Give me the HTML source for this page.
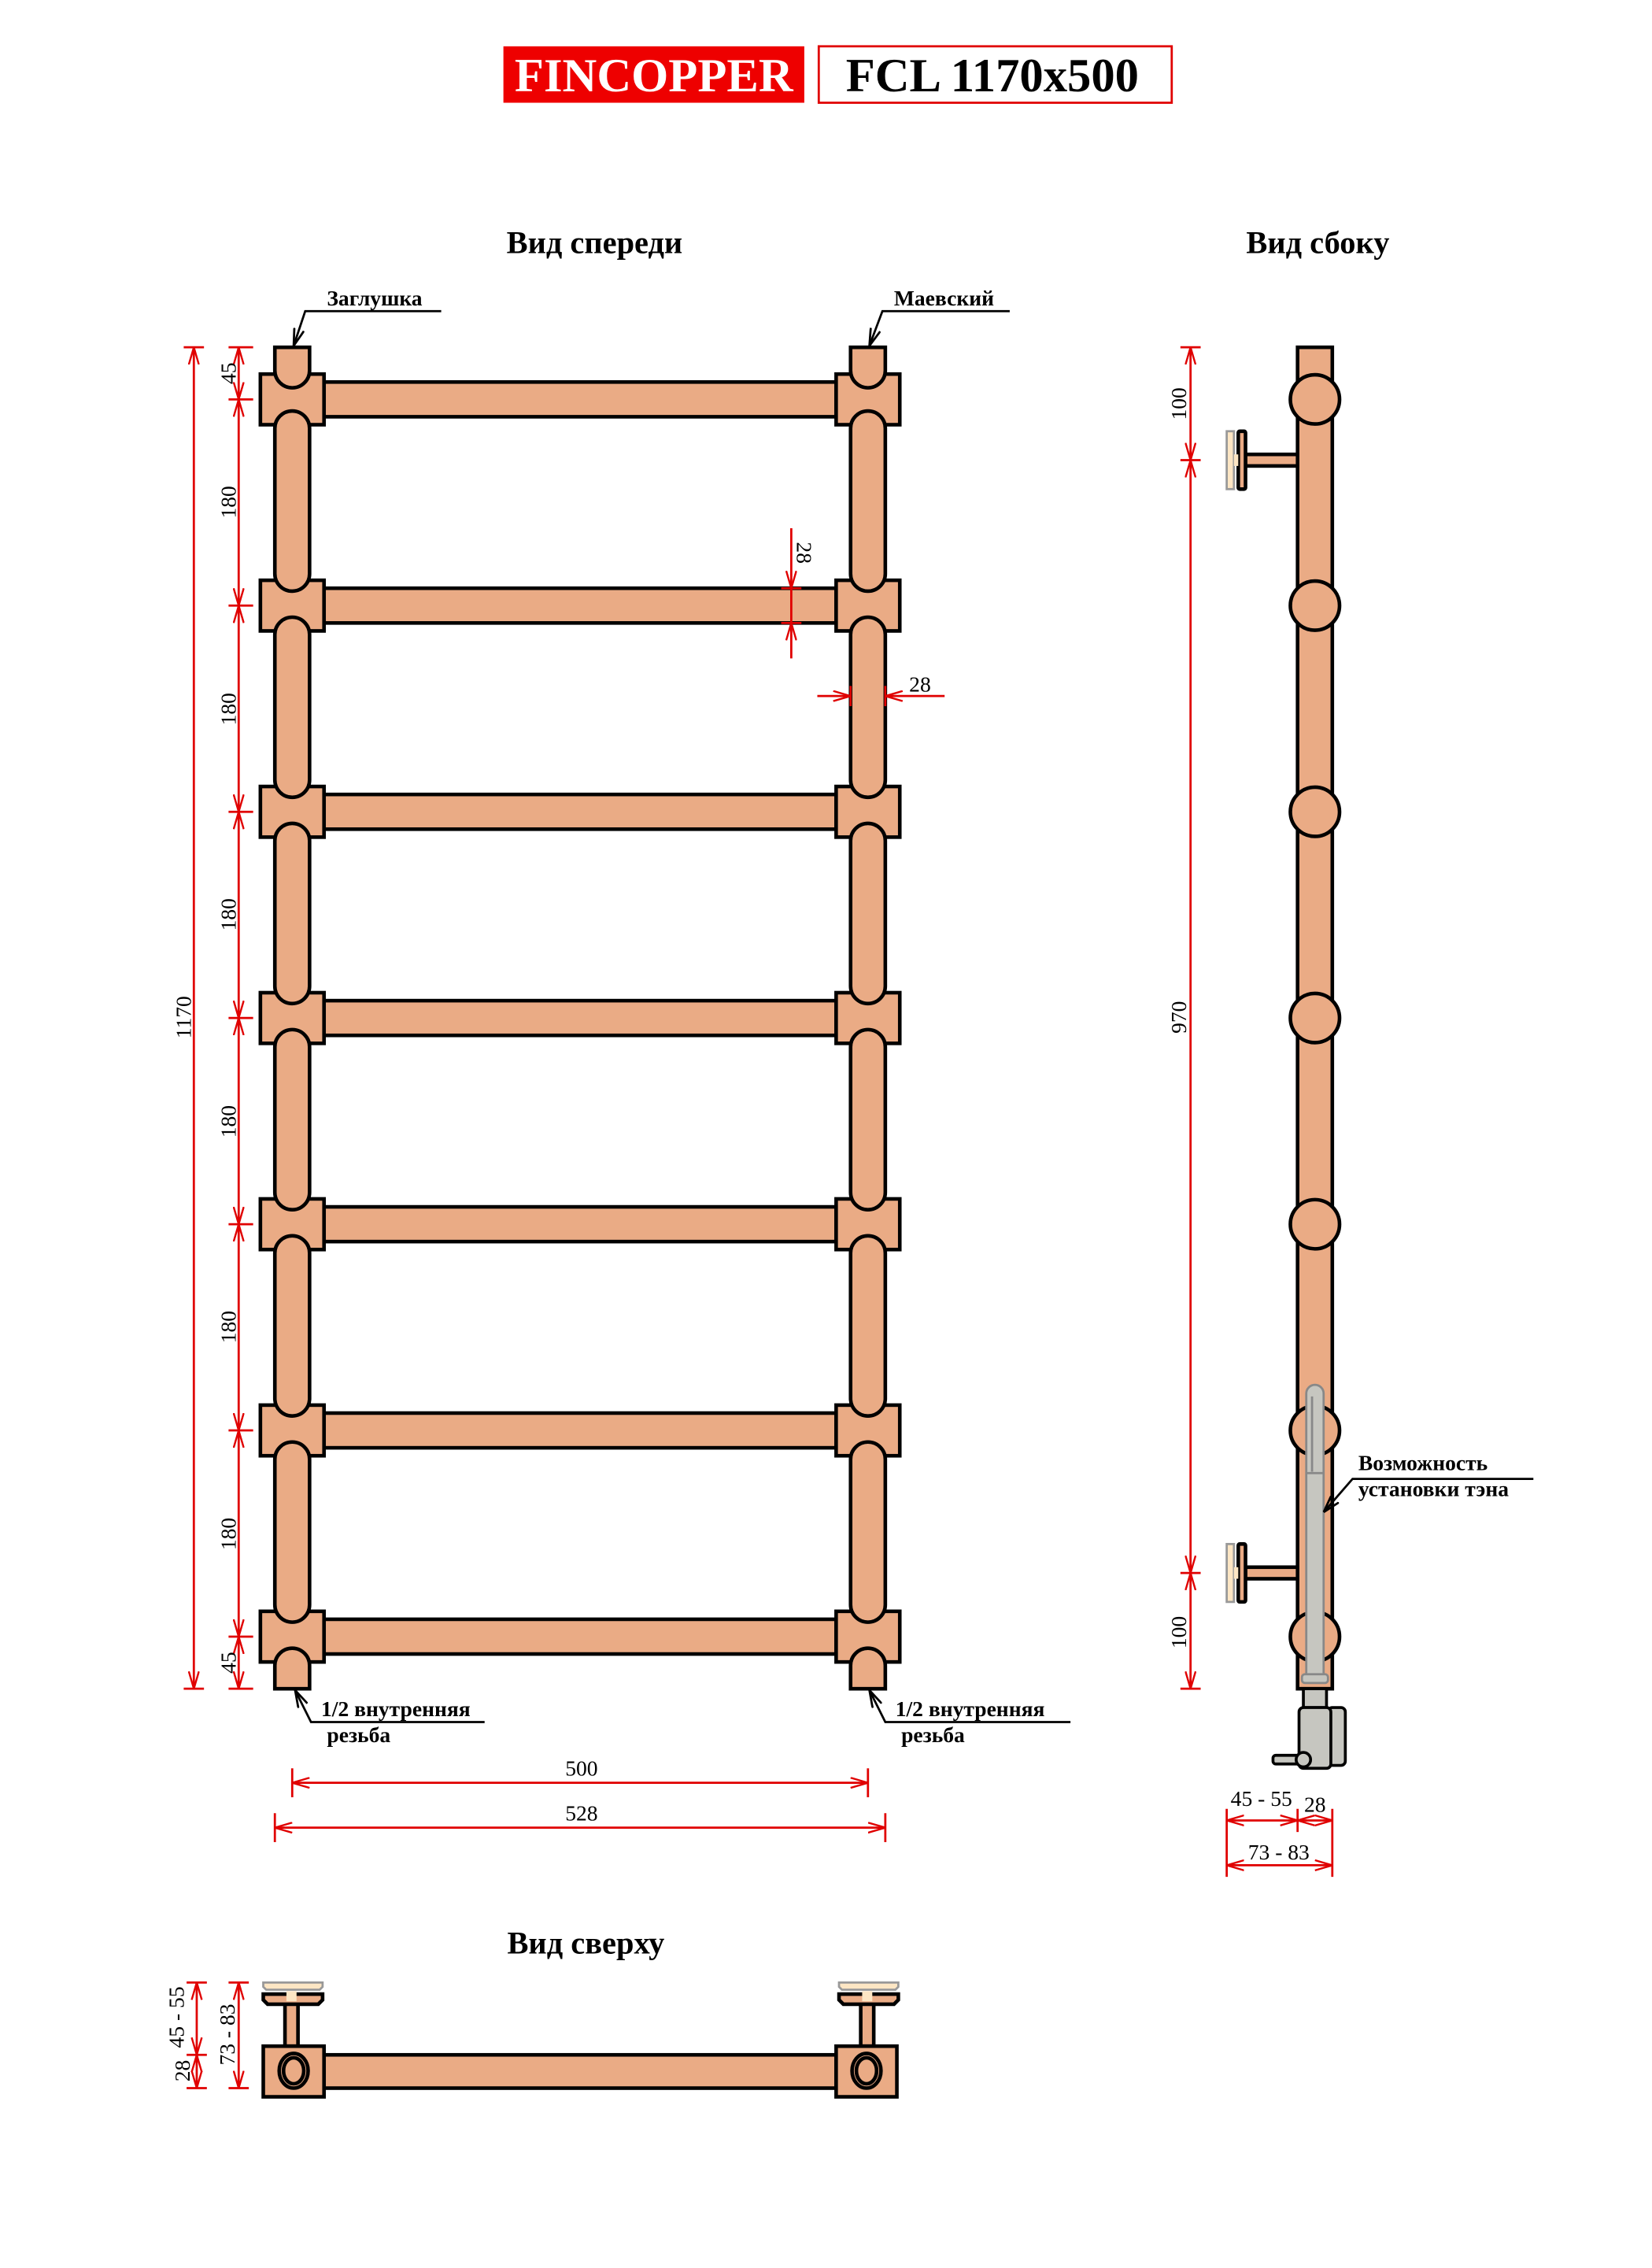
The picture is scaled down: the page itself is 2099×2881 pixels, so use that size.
<!DOCTYPE html>
<html><head><meta charset="utf-8"><style>
html,body{margin:0;padding:0;background:#fff;}
svg{display:block;}
text{font-family:"Liberation Serif",serif;fill:#000;}
</style></head><body>
<svg width="2099" height="2881" viewBox="0 0 1142 1567.3" preserveAspectRatio="none" xmlns="http://www.w3.org/2000/svg">
<defs>
<marker id="a" viewBox="0 0 12 8" refX="12" refY="4" markerWidth="12" markerHeight="8" markerUnits="userSpaceOnUse" orient="auto-start-reverse">
<path d="M0,0.5 L12,4 L0,7.5" fill="none" stroke="#e00000" stroke-width="1.3"/></marker>
<marker id="k" viewBox="0 0 12 8" refX="12" refY="4" markerWidth="12" markerHeight="8" markerUnits="userSpaceOnUse" orient="auto">
<path d="M0,0.5 L12,4 L0,7.5" fill="none" stroke="#000" stroke-width="1.5"/></marker>
<g id="row">
<rect x="224" y="-12" width="354" height="24" fill="#eaab85" stroke="#000" stroke-width="2.5"/>
<rect x="180" y="-17.5" width="44" height="35" fill="#eaab85" stroke="#000" stroke-width="2.5"/>
<rect x="578" y="-17.5" width="44" height="35" fill="#eaab85" stroke="#000" stroke-width="2.5"/>
</g>
<g id="seg"><rect x="190" y="0" width="24" height="124.5" rx="12" fill="#eaab85" stroke="#000" stroke-width="2.5"/>
<rect x="588" y="0" width="24" height="124.5" rx="12" fill="#eaab85" stroke="#000" stroke-width="2.5"/></g>
</defs>

<!-- Title -->
<rect x="348" y="32" width="208" height="39" fill="#ee0000"/>
<text x="452" y="63" text-anchor="middle" font-size="33" font-weight="bold" style="fill:#fff">FINCOPPER</text>
<rect x="566" y="32" width="244" height="39" fill="#fff" stroke="#e00000" stroke-width="1.5"/>
<text x="686" y="63" text-anchor="middle" font-size="33" font-weight="bold">FCL 1170x500</text>

<text x="411" y="175" text-anchor="middle" font-size="22" font-weight="bold">Вид спереди</text>
<text x="911" y="175" text-anchor="middle" font-size="22" font-weight="bold">Вид сбоку</text>
<text x="405" y="1350" text-anchor="middle" font-size="22" font-weight="bold">Вид сверху</text>

<!-- Front view -->
<use href="#row" y="276"/><use href="#row" y="418.5"/><use href="#row" y="561"/><use href="#row" y="703.5"/><use href="#row" y="846"/><use href="#row" y="988.5"/><use href="#row" y="1131"/>
<use href="#seg" y="284"/><use href="#seg" y="426.5"/><use href="#seg" y="569"/><use href="#seg" y="711.5"/><use href="#seg" y="854"/><use href="#seg" y="996.5"/>
<g fill="#eaab85" stroke="#000" stroke-width="2.5">
<path d="M190,240 H214 V256 A12,12 0 0 1 190,256 Z"/><path d="M588,240 H612 V256 A12,12 0 0 1 588,256 Z"/>
<path d="M190,1167 H214 V1151 A12,12 0 0 0 190,1151 Z"/><path d="M588,1167 H612 V1151 A12,12 0 0 0 588,1151 Z"/>
</g>

<!-- front dims -->
<g stroke="#e00000" stroke-width="1.5" fill="none">
<line x1="127" y1="240" x2="141" y2="240"/><line x1="127" y1="1167" x2="141" y2="1167"/>
<line x1="134" y1="240" x2="134" y2="1167" marker-start="url(#a)" marker-end="url(#a)"/>
<line x1="158" y1="240" x2="175" y2="240"/><line x1="158" y1="276" x2="175" y2="276"/><line x1="158" y1="418.5" x2="175" y2="418.5"/><line x1="158" y1="561" x2="175" y2="561"/><line x1="158" y1="703.5" x2="175" y2="703.5"/><line x1="158" y1="846" x2="175" y2="846"/><line x1="158" y1="988.5" x2="175" y2="988.5"/><line x1="158" y1="1131" x2="175" y2="1131"/><line x1="158" y1="1167" x2="175" y2="1167"/>
<line x1="165" y1="240" x2="165" y2="276" marker-start="url(#a)" marker-end="url(#a)"/>
<line x1="165" y1="276" x2="165" y2="418.5" marker-start="url(#a)" marker-end="url(#a)"/>
<line x1="165" y1="418.5" x2="165" y2="561" marker-start="url(#a)" marker-end="url(#a)"/>
<line x1="165" y1="561" x2="165" y2="703.5" marker-start="url(#a)" marker-end="url(#a)"/>
<line x1="165" y1="703.5" x2="165" y2="846" marker-start="url(#a)" marker-end="url(#a)"/>
<line x1="165" y1="846" x2="165" y2="988.5" marker-start="url(#a)" marker-end="url(#a)"/>
<line x1="165" y1="988.5" x2="165" y2="1131" marker-start="url(#a)" marker-end="url(#a)"/>
<line x1="165" y1="1131" x2="165" y2="1167" marker-start="url(#a)" marker-end="url(#a)"/>
<line x1="547" y1="365" x2="547" y2="406.5" marker-end="url(#a)"/>
<line x1="547" y1="455" x2="547" y2="430.5" marker-end="url(#a)"/>
<line x1="547" y1="406.5" x2="547" y2="430.5"/>
<line x1="540" y1="406.5" x2="554" y2="406.5"/><line x1="540" y1="430.5" x2="554" y2="430.5"/>
<line x1="565" y1="481" x2="588" y2="481" marker-end="url(#a)"/>
<line x1="653" y1="481" x2="612" y2="481" marker-end="url(#a)"/>
<line x1="588" y1="474" x2="588" y2="488"/><line x1="612" y1="474" x2="612" y2="488"/>
<line x1="202" y1="1222" x2="202" y2="1242"/><line x1="600" y1="1222" x2="600" y2="1242"/>
<line x1="202" y1="1232" x2="600" y2="1232" marker-start="url(#a)" marker-end="url(#a)"/>
<line x1="190" y1="1253" x2="190" y2="1273"/><line x1="612" y1="1253" x2="612" y2="1273"/>
<line x1="190" y1="1263" x2="612" y2="1263" marker-start="url(#a)" marker-end="url(#a)"/>
</g>
<g font-size="15">
<text transform="translate(132,703) rotate(-90)" text-anchor="middle">1170</text>
<text transform="translate(163,258) rotate(-90)" text-anchor="middle">45</text>
<text transform="translate(163,347) rotate(-90)" text-anchor="middle">180</text>
<text transform="translate(163,490) rotate(-90)" text-anchor="middle">180</text>
<text transform="translate(163,632) rotate(-90)" text-anchor="middle">180</text>
<text transform="translate(163,775) rotate(-90)" text-anchor="middle">180</text>
<text transform="translate(163,917) rotate(-90)" text-anchor="middle">180</text>
<text transform="translate(163,1060) rotate(-90)" text-anchor="middle">180</text>
<text transform="translate(163,1149) rotate(-90)" text-anchor="middle">45</text>
<text transform="translate(551,382) rotate(90)" text-anchor="middle">28</text>
<text x="636" y="478" text-anchor="middle">28</text>
<text x="402" y="1227" text-anchor="middle">500</text>
<text x="402" y="1258" text-anchor="middle">528</text>
</g>
<g font-size="15" font-weight="bold">
<text x="226" y="211">Заглушка</text>
<text x="618" y="211">Маевский</text>
<text x="222" y="1186">1/2 внутренняя</text>
<text x="226" y="1204">резьба</text>
<text x="619" y="1186">1/2 внутренняя</text>
<text x="623" y="1204">резьба</text>
</g>
<g stroke="#000" stroke-width="1.5" fill="none">
<polyline points="305,215 211,215 203,239" marker-end="url(#k)"/>
<polyline points="698,215 610,215 601,239" marker-end="url(#k)"/>
<polyline points="335,1190 215,1190 204,1168" marker-end="url(#k)"/>
<polyline points="740,1190 612,1190 601,1168" marker-end="url(#k)"/>
</g>

<!-- Side view -->
<g fill="#eaab85" stroke="#000" stroke-width="2.5">
<rect x="897" y="240" width="24" height="927"/>
<circle cx="909" cy="276" r="17"/><circle cx="909" cy="418.5" r="17"/><circle cx="909" cy="561" r="17"/><circle cx="909" cy="703.5" r="17"/><circle cx="909" cy="846" r="17"/><circle cx="909" cy="988.5" r="17"/><circle cx="909" cy="1131" r="17"/>
<rect x="861" y="314" width="36" height="8"/>
<rect x="856" y="298" width="5" height="40" rx="1"/>
<rect x="861" y="1083" width="36" height="8"/>
<rect x="856" y="1067" width="5" height="40" rx="1"/>
</g>
<g fill="#fde6c4" stroke="#999" stroke-width="1.5">
<rect x="848" y="298" width="5" height="40"/><rect x="853" y="314" width="3" height="8" stroke="none"/>
<rect x="848" y="1067" width="5" height="40"/><rect x="853" y="1083" width="3" height="8" stroke="none"/>
</g>
<g stroke="#888" stroke-width="1.5" fill="#c6c6c0">
<path d="M903,1160 V963 A6,6 0 0 1 915,963 V1160 Z"/>
<line x1="907" y1="965" x2="907" y2="1017"/>
<line x1="903" y1="1018" x2="915" y2="1018"/>
<rect x="900" y="1157" width="18" height="6" rx="2"/>
</g>
<g stroke="#000" stroke-width="2" fill="#c6c6c0">
<rect x="901" y="1167" width="16" height="13"/>
<rect x="918" y="1180" width="12" height="40" rx="3"/>
<rect x="898" y="1180" width="22" height="42" rx="3"/>
<rect x="880" y="1213" width="20" height="6" rx="2"/>
<circle cx="901" cy="1216" r="5"/>
</g>
<g stroke="#000" stroke-width="1.5" fill="none">
<polyline points="1060,1022 935,1022 915,1045" marker-end="url(#k)"/>
</g>
<text x="939" y="1016" font-size="15" font-weight="bold">Возможность</text>
<text x="939" y="1034" font-size="15" font-weight="bold">установки тэна</text>
<g stroke="#e00000" stroke-width="1.5" fill="none">
<line x1="816" y1="240" x2="830" y2="240"/><line x1="816" y1="318" x2="830" y2="318"/><line x1="816" y1="1087" x2="830" y2="1087"/><line x1="816" y1="1167" x2="830" y2="1167"/>
<line x1="823" y1="240" x2="823" y2="318" marker-start="url(#a)" marker-end="url(#a)"/>
<line x1="823" y1="318" x2="823" y2="1087" marker-start="url(#a)" marker-end="url(#a)"/>
<line x1="823" y1="1087" x2="823" y2="1167" marker-start="url(#a)" marker-end="url(#a)"/>
<line x1="848" y1="1250" x2="848" y2="1297"/><line x1="897" y1="1250" x2="897" y2="1266"/><line x1="921" y1="1250" x2="921" y2="1297"/>
<line x1="848" y1="1258" x2="897" y2="1258" marker-start="url(#a)" marker-end="url(#a)"/>
<line x1="897" y1="1258" x2="921" y2="1258" marker-start="url(#a)" marker-end="url(#a)"/>
<line x1="848" y1="1289" x2="921" y2="1289" marker-start="url(#a)" marker-end="url(#a)"/>
</g>
<g font-size="15">
<text transform="translate(820,279) rotate(-90)" text-anchor="middle">100</text>
<text transform="translate(820,703) rotate(-90)" text-anchor="middle">970</text>
<text transform="translate(820,1128) rotate(-90)" text-anchor="middle">100</text>
<text x="872" y="1248" text-anchor="middle">45 - 55</text>
<text x="909" y="1252" text-anchor="middle">28</text>
<text x="884" y="1285" text-anchor="middle">73 - 83</text>
</g>

<!-- Top view -->
<g fill="#eaab85" stroke="#000" stroke-width="2.5">
<rect x="197" y="1384" width="9" height="30"/><rect x="595" y="1384" width="9" height="30"/>
<path d="M182,1378 H223 V1382 L220,1385 H185 L182,1382 Z"/>
<path d="M580,1378 H621 V1382 L618,1385 H583 L580,1382 Z"/>
<rect x="224" y="1420" width="354" height="23"/>
<rect x="182" y="1414" width="42" height="35"/>
<rect x="578" y="1414" width="42" height="35"/>
<ellipse cx="203" cy="1431" rx="10" ry="12"/><ellipse cx="203" cy="1431" rx="7" ry="9"/>
<ellipse cx="599" cy="1431" rx="10" ry="12"/><ellipse cx="599" cy="1431" rx="7" ry="9"/>
</g>
<g fill="#fde6c4" stroke="#999" stroke-width="1.5">
<rect x="198" y="1376" width="7" height="7" stroke="none"/><rect x="596" y="1376" width="7" height="7" stroke="none"/>
<path d="M182,1370 H223 V1373 L221,1375 H184 L182,1373 Z"/>
<path d="M580,1370 H621 V1373 L619,1375 H582 L580,1373 Z"/>
</g>
<g stroke="#e00000" stroke-width="1.5" fill="none">
<line x1="129" y1="1370" x2="143" y2="1370"/><line x1="129" y1="1420" x2="143" y2="1420"/><line x1="129" y1="1443" x2="143" y2="1443"/>
<line x1="158" y1="1370" x2="172" y2="1370"/><line x1="158" y1="1443" x2="172" y2="1443"/>
<line x1="136" y1="1370" x2="136" y2="1420" marker-start="url(#a)" marker-end="url(#a)"/>
<line x1="136" y1="1420" x2="136" y2="1443" marker-start="url(#a)" marker-end="url(#a)"/>
<line x1="165" y1="1370" x2="165" y2="1443" marker-start="url(#a)" marker-end="url(#a)"/>
</g>
<g font-size="15">
<text transform="translate(127,1394) rotate(-90)" text-anchor="middle">45 - 55</text>
<text transform="translate(131,1431) rotate(-90)" text-anchor="middle">28</text>
<text transform="translate(162,1406) rotate(-90)" text-anchor="middle">73 - 83</text>
</g>
</svg>
</body></html>
